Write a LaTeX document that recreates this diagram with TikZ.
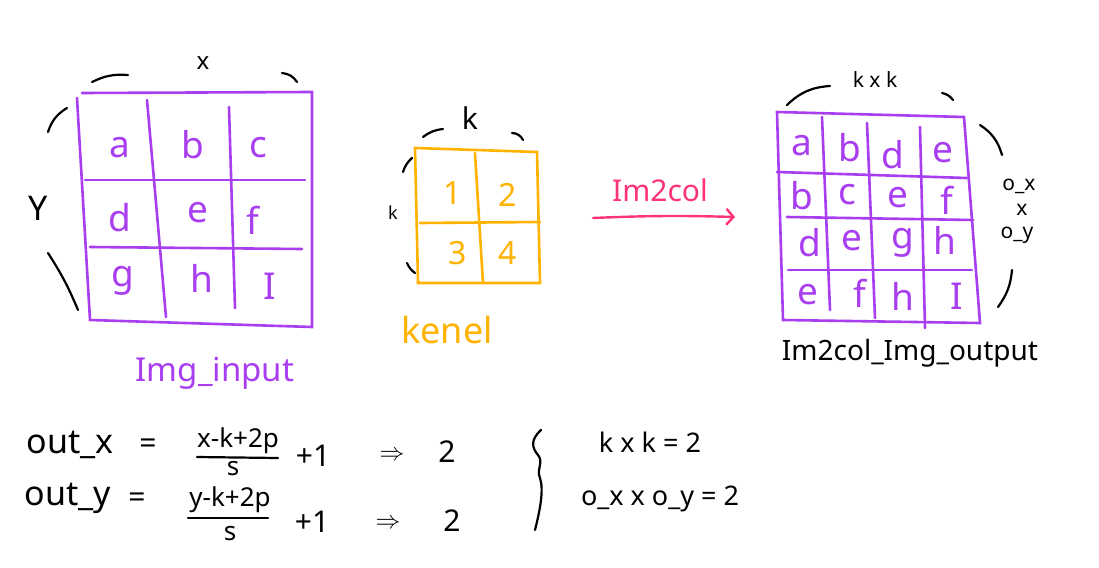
\documentclass[tikz,border=0pt]{standalone}
\usepackage{fontspec}
\setmainfont{Noto Sans}
\usetikzlibrary{arrows.meta, positioning, calc}
\definecolor{gridpurple}{RGB}{168,62,240}
\definecolor{kernelorange}{RGB}{255,178,0}
\definecolor{arrowpink}{RGB}{255,51,119}

\begin{document}
\begin{tikzpicture}[
    x=1pt, y=-1pt,
    gridline/.style={line width=2.6pt, line cap=round, gridpurple},
    kernline/.style={line width=2.6pt, line cap=round, kernelorange},
    spanmark/.style={line width=2.2pt, line cap=round, black},
    cell/.style={font=\fontsize{37}{40}\selectfont, text=gridpurple, inner sep=0pt},
    kcell/.style={font=\fontsize{32}{36}\selectfont, text=kernelorange, inner sep=0pt},
    ink/.style={font=\fontsize{30}{34}\selectfont, inner sep=0pt},
    smallink/.style={font=\fontsize{21}{24}\selectfont, inner sep=0pt},
    arrow/.style={-{Straight Barb[length=7pt, width=16pt]}, line width=2.4pt, line cap=round, arrowpink}
]
\useasboundingbox (0,0) rectangle (1099,567);

% input image grid
\draw[gridline] (82,93) -- (312,92) -- (312,327) -- (90,320) -- (77,98);
\draw[gridline] (147,100) -- (166,317);
\draw[gridline] (229,107) -- (235,308);
\draw[gridline] (85,180) -- (305,180);
\draw[gridline] (90,247) -- (302,249);
\node[cell] (i11) at (120,148) {a};
\node[cell] (i12) at (193,145) {b};
\node[cell] (i13) at (258,148) {c};
\node[cell] (i21) at (120,218) {d};
\node[cell] (i22) at (198,213) {e};
\node[cell] (i23) at (253,220) {f};
\node[cell] (i31) at (123,281) {g};
\node[cell] (i32) at (202,278) {h};
\node[cell] (i33) at (270,286) {I};
\draw[spanmark] (92,82) to[bend left=15] (128,75);
\draw[spanmark] (282,73) to[bend left=25] (297,82);
\node[smallink, font=\fontsize{24}{26}\selectfont] (xlab) at (203,63) {x};
\draw[spanmark] (67,108) to[bend right=20] (48,132);
\draw[spanmark] (48,253) to[bend left=5] (78,310);
\node[ink, font=\fontsize{34}{38}\selectfont] (ylab) at (38,208) {Y};
\node[ink, font=\fontsize{33}{38}\selectfont, text=gridpurple] (inlab) at (215,373) {Img\_input};

% kernel grid
\draw[kernline] (415,148) -- (537,152) -- (540,283) -- (418,283) -- cycle;
\draw[kernline] (475,153) -- (483,283);
\draw[kernline] (420,223) -- (540,222);
\node[kcell] (k11) at (453,193) {1};
\node[kcell] (k12) at (508,195) {2};
\node[kcell] (k21) at (458,253) {3};
\node[kcell] (k22) at (508,253) {4};
\draw[spanmark] (423,137) to[bend left=15] (443,129);
\draw[spanmark] (512,133) to[bend left=30] (523,140);
\node[ink] (ktop) at (470,118) {k};
\draw[spanmark] (412,158) to[bend right=15] (403,172);
\draw[spanmark] (407,263) to[bend right=15] (415,273);
\node[smallink, font=\fontsize{18}{20}\selectfont] (kleft) at (393,213) {k};
\node[ink, font=\fontsize{36}{40}\selectfont, text=kernelorange] (kernlab) at (447,330) {kenel};

% im2col arrow
\coordinate (arrowtail) at (593,218);
\coordinate (arrowhead) at (735,217);
\draw[arrow] (arrowtail) to[bend left=2] (arrowhead);
\node[ink, text=arrowpink] (im2col) at (660,190) {Im2col};

% output grid
\draw[gridline] (777,112) -- (964,117) -- (980,323) -- (783,320) -- cycle;
\draw[gridline] (822,117) -- (830,310);
\draw[gridline] (867,123) -- (875,318);
\draw[gridline] (920,127) -- (925,328);
\draw[gridline] (777,172) -- (967,178);
\draw[gridline] (787,217) -- (973,220);
\draw[gridline] (788,270) -- (972,270);
\node[cell] (o11) at (802,146) {a};
\node[cell] (o12) at (850,148) {b};
\node[cell] (o13) at (893,155) {d};
\node[cell] (o14) at (943,153) {e};
\node[cell] (o21) at (802,196) {b};
\node[cell] (o22) at (847,195) {c};
\node[cell] (o23) at (898,198) {e};
\node[cell] (o24) at (947,200) {f};
\node[cell] (o31) at (810,243) {d};
\node[cell] (o32) at (852,241) {e};
\node[cell] (o33) at (903,243) {g};
\node[cell] (o34) at (945,240) {h};
\node[cell] (o41) at (808,295) {e};
\node[cell] (o42) at (860,293) {f};
\node[cell] (o43) at (903,296) {h};
\node[cell] (o44) at (957,296) {I};
\draw[spanmark] (787,105) to[bend left=20] (830,86);
\draw[spanmark] (942,93) to[bend left=20] (953,100);
\node[smallink] (kxk) at (875,80) {k x k};
\draw[spanmark] (980,125) to[bend left=20] (1002,155);
\draw[spanmark] (1012,270) to[bend left=15] (998,307);
\node[smallink] (ox) at (1019,186) {o\_x};
\node[smallink] (times) at (1022,210) {x};
\node[smallink] (oy) at (1017,235) {o\_y};
\node[ink, font=\fontsize{28}{32}\selectfont] (outlab) at (910,353) {Im2col\_Img\_output};

% output size formulas
\node[ink, font=\fontsize{34}{38}\selectfont] (outx) at (70,445) {out\_x};
\node[ink] (eqx) at (148,446) {=};
\node[ink, font=\fontsize{26}{30}\selectfont] (numx) at (238,441) {x-k+2p};
\node[ink, font=\fontsize{26}{30}\selectfont] (denx) at (233,469) {s};
\draw[spanmark] (197,457) -- (278,458);
\node[ink] (plusx) at (313,456) {+1};
\node[ink] (impx) at (392,456) {$\Rightarrow$};
\node[ink] (resx) at (447,452) {2};
\node[ink, font=\fontsize{34}{38}\selectfont] (outy) at (68,498) {out\_y};
\node[ink] (eqy) at (137,500) {=};
\node[ink, font=\fontsize{26}{30}\selectfont] (numy) at (230,500) {y-k+2p};
\node[ink, font=\fontsize{26}{30}\selectfont] (deny) at (230,534) {s};
\draw[spanmark] (188,518) -- (268,518);
\node[ink] (plusy) at (312,522) {+1};
\node[ink] (impy) at (388,524) {$\Rightarrow$};
\node[ink] (resy) at (452,521) {2};

% condition brace
\draw[spanmark] (541,430) .. controls (530,440) and (532,448) .. (538,455)
    .. controls (544,462) and (536,470) .. (540,478)
    .. controls (544,490) and (540,510) .. (535,530);
\node[ink, font=\fontsize{27}{30}\selectfont] (kk) at (650,442) {k x k = 2};
\node[ink, font=\fontsize{27}{30}\selectfont] (oo) at (660,499) {o\_x x o\_y = 2};
\end{tikzpicture}
\end{document}
